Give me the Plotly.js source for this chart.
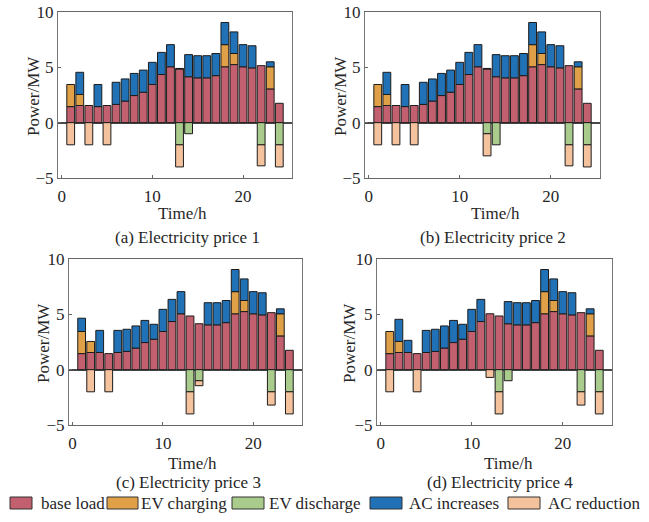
<!DOCTYPE html>
<html>
<head>
<meta charset="utf-8">
<script src="https://cdn.plot.ly/plotly-3.0.1.min.js"></script>
<style>
  html, body { margin: 0; padding: 0; background: #fff; }
  #chart { width: 649px; height: 522px; }
</style>
</head>
<body>
<div id="chart"></div>
<script>
// hours of the day
const hours = [1, 2, 3, 4, 5, 6, 7, 8, 9, 10, 11, 12, 13, 14, 15, 16, 17, 18, 19, 20, 21, 22, 23, 24];
const seriesNames = ['base load', 'EV charging', 'EV discharge', 'AC increases', 'AC reduction'];
const captions = ['(a) Electricity price 1', '(b) Electricity price 2', '(c) Electricity price 3', '(d) Electricity price 4'];
const xTicks = [0, 10, 20];
const yTicks = [-5, 0, 5, 10];

// MW, same base load for every price scheme
const baseLoad = [1.45, 1.55, 1.55, 1.45, 1.55, 1.65, 1.95, 2.45, 2.75, 3.45, 4.35, 5.05,
                  4.85, 4.15, 4.05, 4.05, 4.25, 5.05, 5.25, 5.05, 4.95, 5.15, 3.05, 1.75];
// one row per electricity price (a..d)
const evCharging = [
  [2, 1, 0, 0, 0, 0, 0, 0, 0, 0, 0, 0, 0, 0, 0, 0, 0, 2, 1, 0, 0, 0, 2, 0],
  [2, 1, 0, 0, 0, 0, 0, 0, 0, 0, 0, 0, 0, 0, 0, 0, 0, 2, 1, 0, 0, 0, 2, 0],
  [2, 1, 0, 0, 0, 0, 0, 0, 0, 0, 0, 0, 0, 0, 0, 0, 0, 2, 1, 0, 0, 0, 2, 0],
  [2, 1, 0, 0, 0, 0, 0, 0, 0, 0, 0, 0, 0, 0, 0, 0, 0, 2, 1, 0, 0, 0, 2, 0]
];
const evDischarge = [
  [0, 0, 0, 0, 0, 0, 0, 0, 0, 0, 0, 0, -2, -1, 0, 0, 0, 0, 0, 0, 0, -2, 0, -2],
  [0, 0, 0, 0, 0, 0, 0, 0, 0, 0, 0, 0, -1, -2, 0, 0, 0, 0, 0, 0, 0, -2, 0, -2],
  [0, 0, 0, 0, 0, 0, 0, 0, 0, 0, 0, 0, -2, -1, 0, 0, 0, 0, 0, 0, 0, -2, 0, -2],
  [0, 0, 0, 0, 0, 0, 0, 0, 0, 0, 0, 0, -2, -1, 0, 0, 0, 0, 0, 0, 0, -2, 0, -2]
];
const acIncrease = [
  [0, 2, 0, 2, 0, 2, 2, 2, 2, 2, 2, 2, 0.05, 2, 2, 2, 2, 2, 1.95, 2, 2, 0, 0.45, 0],
  [0, 2, 0, 2, 0, 2, 2, 2, 2, 2, 2, 2, 0.05, 2, 2, 2, 2, 2, 1.95, 2, 2, 0, 0.45, 0],
  [1.2, 0, 2, 0, 2, 2, 2, 2, 1.35, 2, 2, 2, 0, 0, 2, 2, 2, 2, 1.95, 2, 2, 0, 0.45, 0],
  [0, 2, 1.1, 0, 2, 2, 2, 2, 1.35, 2, 2, 0, 0, 2, 2, 2, 2, 2, 1.95, 2, 2, 0, 0.45, 0]
];
const acReduction = [
  [-2, 0, -2, 0, -2, 0, 0, 0, 0, 0, 0, 0, -2, 0, 0, 0, 0, 0, 0, 0, 0, -1.9, 0, -2],
  [-2, 0, -2, 0, -2, 0, 0, 0, 0, 0, 0, 0, -2, 0, 0, 0, 0, 0, 0, 0, 0, -1.9, 0, -2],
  [0, -2, 0, -2, 0, 0, 0, 0, 0, 0, 0, 0, -2, -0.45, 0, 0, 0, 0, 0, 0, 0, -1.2, 0, -2],
  [-2, 0, 0, -2, 0, 0, 0, 0, 0, 0, 0, -0.7, -2, 0, 0, 0, 0, 0, 0, 0, 0, -1.2, 0, -2]
];

const colors = ['#c2606f', '#e0a048', '#a9cb8c', '#2071b5', '#f5c29e'];
const W = 649, H = 522;
const FONT = 'Liberation Serif, Times New Roman, serif';
const px = (x) => x / W;
const py = (y) => 1 - y / H;

// plot boxes in pixels: [left, right, top, bottom], label positions
const panels = [
  { box: [58, 292, 12, 178], xt: [182, 213], yt: [33, 96], cap: [187, 237] },
  { box: [365, 600, 12, 178], xt: [495, 213], yt: [340, 96], cap: [493, 237] },
  { box: [69, 302, 259, 425], xt: [192, 463], yt: [43, 343], cap: [188, 482] },
  { box: [377, 612, 259, 425], xt: [508, 463], yt: [349, 343], cap: [500, 482] }
];

const nz = (arr) => arr.map(v => (v === 0 ? null : v));

const data = [];
const layout = {
  width: W, height: H,
  margin: { t: 0, b: 0, l: 0, r: 0 },
  paper_bgcolor: 'white', plot_bgcolor: 'white',
  font: { family: FONT, size: 17, color: '#262626' },
  barmode: 'relative',
  bargap: 0.14,
  showlegend: false,
  annotations: [],
  shapes: []
};

panels.forEach((p, i) => {
  const k = i === 0 ? '' : String(i + 1);
  const series = [baseLoad, evCharging[i], evDischarge[i], acIncrease[i], acReduction[i]];
  series.forEach((vals, s) => {
    data.push({
      type: 'bar',
      name: seriesNames[s],
      x: hours,
      y: nz(vals),
      xaxis: 'x' + k,
      yaxis: 'y' + k,
      marker: { color: colors[s], line: { color: '#1c1c1c', width: 1 } },
      hoverinfo: 'x+y+name'
    });
  });
  layout['xaxis' + k] = {
    domain: [px(p.box[0]), px(p.box[1])],
    anchor: 'y' + k,
    range: [-0.4, 25.4],
    tickmode: 'array', tickvals: xTicks,
    ticks: 'inside', ticklen: 3, tickcolor: '#666',
    showline: true, mirror: true, linecolor: '#666', linewidth: 1.3,
    showgrid: false, zeroline: false,
    tickfont: { family: FONT, size: 17, color: '#262626' },
    ticklabelstandoff: 2
  };
  layout['yaxis' + k] = {
    domain: [py(p.box[3]), py(p.box[2])],
    anchor: 'x' + k,
    range: [-5, 10],
    tickmode: 'array', tickvals: yTicks,
    ticks: 'inside', ticklen: 3, tickcolor: '#666',
    showline: true, mirror: true, linecolor: '#777', linewidth: 1,
    showgrid: false,
    zeroline: true, zerolinecolor: '#4a4a4a', zerolinewidth: 2,
    tickfont: { family: FONT, size: 17, color: '#262626' },
    ticklabelstandoff: 0
  };
  layout.annotations.push(
    { text: 'Time/h', xref: 'paper', yref: 'paper', x: px(p.xt[0]), y: py(p.xt[1]),
      xanchor: 'center', yanchor: 'middle', showarrow: false, font: { size: 17 } },
    { text: 'Power/MW', xref: 'paper', yref: 'paper', x: px(p.yt[0]), y: py(p.yt[1]), textangle: -90,
      xanchor: 'center', yanchor: 'middle', showarrow: false, font: { size: 17 } },
    { text: captions[i], xref: 'paper', yref: 'paper', x: px(p.cap[0]), y: py(p.cap[1]),
      xanchor: 'center', yanchor: 'middle', showarrow: false, font: { size: 17 } }
  );
});

// legend drawn as wide swatches like the original figure
const legendItems = [
  { sw: [10, 32], tx: 39 },
  { sw: [107, 138], tx: 139 },
  { sw: [232, 264], tx: 267 },
  { sw: [370, 402], tx: 407 },
  { sw: [508, 540], tx: 546 }
];
legendItems.forEach((it, s) => {
  layout.shapes.push({
    type: 'rect', xref: 'paper', yref: 'paper',
    x0: px(it.sw[0]), x1: px(it.sw[1]), y0: py(509), y1: py(497),
    fillcolor: colors[s], line: { color: '#333', width: 1 }
  });
  layout.annotations.push({
    text: seriesNames[s], xref: 'paper', yref: 'paper', x: px(it.tx), y: py(503),
    xanchor: 'left', yanchor: 'middle', showarrow: false, font: { size: 17 }
  });
});

Plotly.newPlot('chart', data, layout, { displayModeBar: false, staticPlot: true });
</script>
</body>
</html>
